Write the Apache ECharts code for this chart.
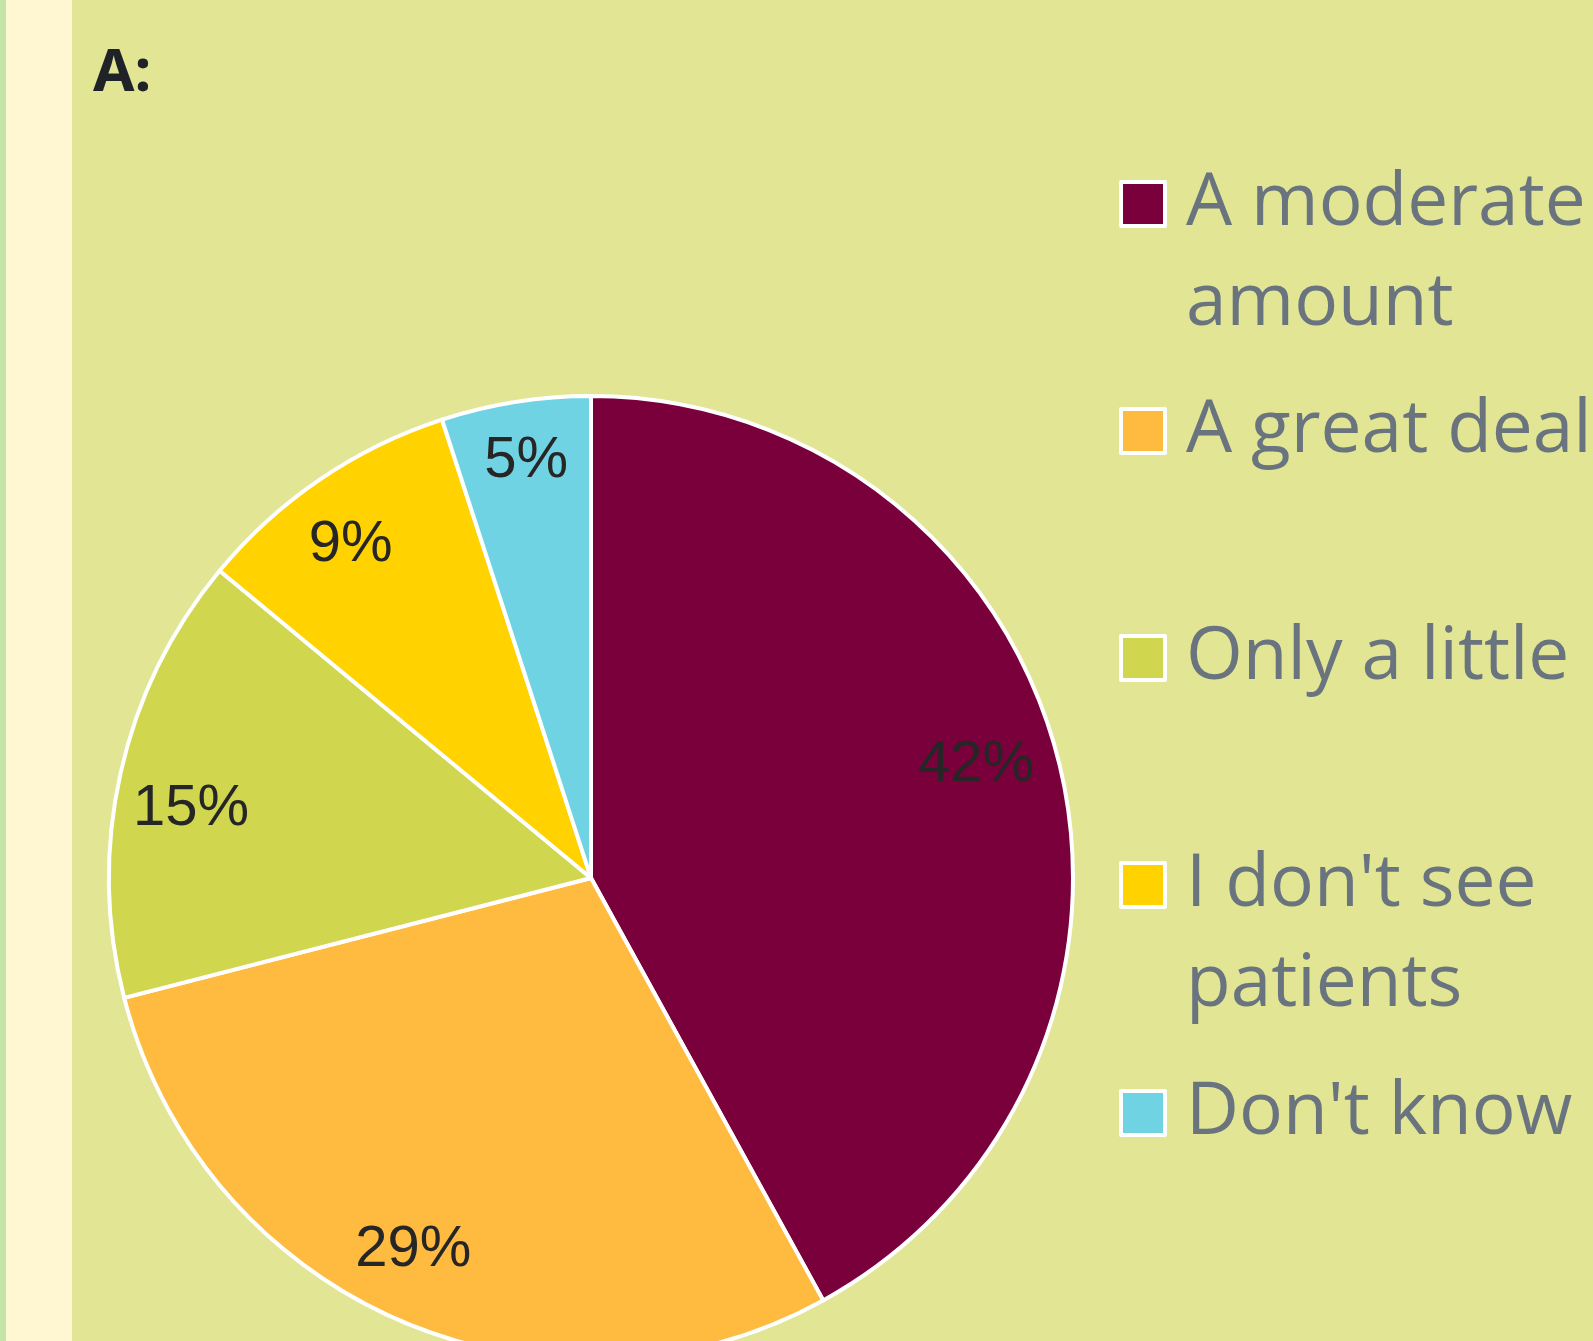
<!DOCTYPE html>
<html>
<head>
<meta charset="utf-8">
<script src="https://cdn.jsdelivr.net/npm/echarts@6/dist/echarts.min.js"></script>
<style>
html,body{margin:0;padding:0;background:#e1e594;}
#chart{width:1593px;height:1341px;}
</style>
</head>
<body>
<div id="chart"></div>
<script>
const categories = ['A moderate amount', 'A great deal', 'Only a little', "I don't see patients", "Don't know"];
const values = [42, 29, 15, 9, 5];
const legendLabels = ['A moderate\namount', 'A great deal', 'Only a little', "I don't see\npatients", "Don't know"];
const colors = ['#7a003c', '#ffbb3f', '#d0d64e', '#ffd200', '#6fd3e4'];

// small label nudges (style), mimicking the original's best-fit label placement
const labelNudges = [[-17, -10], [-13, -9], [5, 22], [-7, 10], [0, -7]];

const markerCenters = [204, 431, 658, 885, 1113];
const LH = 100;

const chart = echarts.init(document.getElementById('chart'), null, {renderer: 'canvas'});

const legends = categories.map((name, i) => {
  const lines = legendLabels[i].split('\n').length;
  const text = lines > 1 ? '\n' + legendLabels[i] : legendLabels[i];
  const nLines = lines > 1 ? lines + 1 : 1;
  return {
    data: [name],
    orient: 'vertical',
    left: 1119,
    top: markerCenters[i] - nLines * LH / 2,
    padding: 0,
    itemWidth: 44,
    itemHeight: 44,
    icon: 'rect',
    selectedMode: false,
    itemStyle: {borderColor: '#ffffff', borderWidth: 4},
    formatter: () => text,
    textStyle: {
      fontFamily: 'Open Sans',
      fontSize: 73,
      lineHeight: LH,
      color: '#69747f',
      padding: [0, 0, 0, 16]
    }
  };
});

const data = categories.map((name, i) => ({
  name: name,
  value: values[i],
  itemStyle: {color: colors[i]}
}));

const option = {
  backgroundColor: '#e1e594',
  animation: false,
  title: {
    text: 'A:',
    left: 88,
    top: 39,
    textStyle: {fontFamily: 'Noto Sans', fontWeight: 'bold', fontSize: 60, color: '#1f2328'}
  },
  graphic: [
    {type: 'rect', left: 0, top: 0, shape: {width: 6, height: 1341}, style: {fill: '#c3e4a6'}, silent: true},
    {type: 'rect', left: 6, top: 0, shape: {width: 66, height: 1341}, style: {fill: '#fff7d2'}, silent: true}
  ],
  legend: legends,
  series: [
    {
      type: 'pie',
      center: [591, 878],
      radius: [0, 482],
      startAngle: 90,
      clockwise: true,
      label: {show: false},
      labelLine: {show: false},
      itemStyle: {borderColor: '#ffffff', borderWidth: 4},
      emphasis: {disabled: true},
      data: data
    },
    {
      type: 'pie',
      center: [591, 878],
      radius: [342, 482],
      startAngle: 90,
      clockwise: true,
      silent: true,
      label: {
        show: true,
        position: 'inside',
        formatter: '{c}%',
        fontFamily: 'Liberation Sans',
        fontSize: 58,
        color: '#262626'
      },
      labelLayout: function (params) {
        const n = labelNudges[params.dataIndex] || [0, 0];
        return {dx: n[0], dy: n[1]};
      },
      labelLine: {show: false},
      itemStyle: {color: 'rgba(0,0,0,0)', borderWidth: 0},
      emphasis: {disabled: true},
      data: categories.map((name, i) => ({name: name, value: values[i]}))
    }
  ]
};

chart.setOption(option);
</script>
</body>
</html>
